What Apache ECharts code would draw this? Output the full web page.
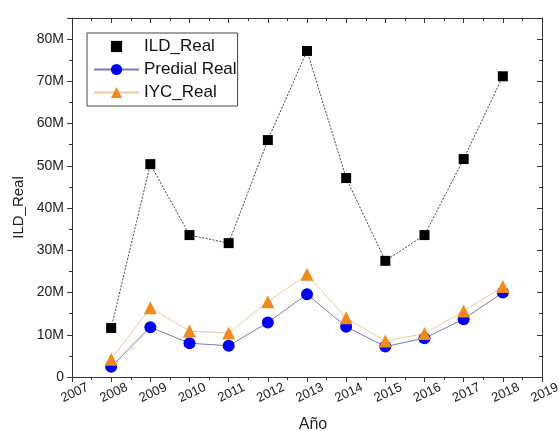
<!DOCTYPE html>
<html>
<head>
<meta charset="utf-8">
<script src="https://cdn.jsdelivr.net/npm/echarts@6/dist/echarts.min.js"></script>
<style>
html,body{margin:0;padding:0;background:#fff;}
#chart{width:559px;height:431px;}
</style>
</head>
<body>
<div id="chart"></div>
<script>
// Data (values in millions)
const years = [2008, 2009, 2010, 2011, 2012, 2013, 2014, 2015, 2016, 2017, 2018];
const ildReal = [11.6, 50.4, 33.6, 31.7, 56.1, 77.2, 47.1, 27.5, 33.6, 51.6, 71.2];
const predialReal = [2.4, 11.8, 8.0, 7.4, 12.9, 19.6, 11.9, 7.2, 9.2, 13.7, 20.0];
const iycReal = [4.2, 16.4, 10.9, 10.4, 17.8, 24.3, 14.0, 8.5, 10.3, 15.6, 21.4];
const seriesNames = ['ILD_Real', 'Predial Real', 'IYC_Real'];
const xAxisTitle = 'Año';
const yAxisTitle = 'ILD_Real';

function pairs(vals) { return years.map((y, i) => [y, vals[i]]); }

const chart = echarts.init(document.getElementById('chart'), null, {renderer: 'canvas'});
const font = 'Liberation Sans, Arial, sans-serif';
const axisColor = '#333';

const xBase = {
  type: 'value', min: 2007, max: 2019, interval: 1,
  axisLine: {show: true, onZero: false, lineStyle: {color: axisColor, width: 1}},
  splitLine: {show: false},
  minorTick: {show: true, splitNumber: 2, length: 3, lineStyle: {color: axisColor}},
  minorSplitLine: {show: false}
};
const yBase = {
  type: 'value', min: 0, max: 85, interval: 10,
  axisLine: {show: true, onZero: false, lineStyle: {color: axisColor, width: 1}},
  splitLine: {show: false},
  minorTick: {show: true, splitNumber: 2, length: 3, lineStyle: {color: axisColor}},
  minorSplitLine: {show: false}
};

chart.setOption({
  animation: false,
  backgroundColor: '#fff',
  grid: {left: 72, right: 17, top: 18, bottom: 54, containLabel: false, outerBoundsMode: 'none'},
  legend: {
    orient: 'vertical', left: 87, top: 33,
    padding: [5, 1, 5, 6],
    itemWidth: 45, itemHeight: 14, itemGap: 6,
    borderColor: '#444', borderWidth: 1,
    textStyle: {fontFamily: font, fontSize: 17, color: '#111'},
    data: [
      {name: seriesNames[0], lineStyle: {opacity: 0}},
      {name: seriesNames[1]},
      {name: seriesNames[2]}
    ]
  },
  xAxis: [
    Object.assign({}, xBase, {
      position: 'bottom',
      name: xAxisTitle, nameLocation: 'middle', nameGap: 40,
      nameTextStyle: {fontFamily: font, fontSize: 16, color: '#222', padding: [0, 0, 0, 12]},
      axisTick: {show: true, inside: false, length: 5, lineStyle: {color: axisColor}},
      axisLabel: {show: true, rotate: 25, align: 'center', verticalAlign: 'top', margin: 10,
        fontFamily: font, fontSize: 13, color: '#222', formatter: v => String(v)}
    }),
    Object.assign({}, xBase, {
      position: 'top',
      axisTick: {show: true, inside: true, length: 5, lineStyle: {color: axisColor}},
      minorTick: {show: true, splitNumber: 2, length: 3, lineStyle: {color: axisColor}},
      axisLabel: {show: false}
    })
  ],
  yAxis: [
    Object.assign({}, yBase, {
      position: 'left',
      name: yAxisTitle, nameLocation: 'middle', nameGap: 46,
      nameTextStyle: {fontFamily: font, fontSize: 15, color: '#222', padding: [0, 20, 0, 0]},
      axisTick: {show: true, inside: false, length: 5, lineStyle: {color: axisColor}},
      axisLabel: {show: true, showMaxLabel: false, margin: 8, fontFamily: font, fontSize: 14, color: '#222',
        formatter: v => v === 0 ? '0' : v + 'M'}
    }),
    Object.assign({}, yBase, {
      position: 'right',
      axisTick: {show: true, inside: true, length: 5, lineStyle: {color: axisColor}},
      minorTick: {show: true, splitNumber: 2, length: 3, lineStyle: {color: axisColor}},
      axisLabel: {show: false}
    })
  ],
  series: [
    {
      name: seriesNames[0], type: 'line', xAxisIndex: 0, yAxisIndex: 0,
      data: pairs(ildReal),
      symbol: 'rect', symbolSize: 10,
      itemStyle: {color: '#000'},
      lineStyle: {color: '#444', width: 1, type: [2, 1.5]},
      z: 2
    },
    {
      name: seriesNames[1], type: 'line', xAxisIndex: 0, yAxisIndex: 0,
      data: pairs(predialReal),
      symbol: 'circle', symbolSize: 12,
      itemStyle: {color: '#0000f5'},
      lineStyle: {color: '#7a7ab8', width: 1},
      z: 3
    },
    {
      name: seriesNames[2], type: 'line', xAxisIndex: 0, yAxisIndex: 0,
      data: pairs(iycReal),
      symbol: 'triangle', symbolSize: 13,
      itemStyle: {color: '#f18a1c'},
      lineStyle: {color: '#f3c79a', width: 1},
      z: 4
    }
  ]
});
</script>
</body>
</html>
